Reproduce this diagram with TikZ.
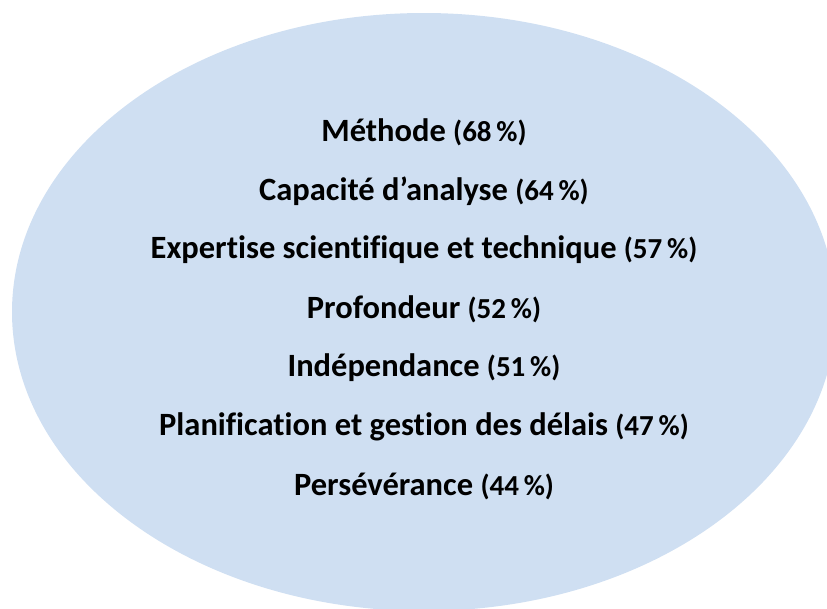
\documentclass[tikz,border=0pt]{standalone}
\usepackage{fontspec}
\setmainfont{Carlito}[Ligatures=CommonOff]
\definecolor{ellfill}{RGB}{207,223,242}
\newcommand{\pctxt}[1]{{\fontsize{29}{32}\selectfont(#1\,\%)}}
\begin{document}
\begin{tikzpicture}[x=1pt,y=-1pt,
  item/.style={font=\fontsize{32.5}{36}\selectfont\bfseries, text=black, anchor=center, inner sep=0pt}]
\useasboundingbox (0,0) rectangle (827,608);
\begin{scope}
\clip (0,0) rectangle (827,608);
\fill[ellfill] (424,312) ellipse [x radius=412, y radius=299];
\end{scope}
\node[item] (m1) at (424,132) {Méthode \pctxt{68}};
\node[item] (m2) at (424,191) {Capacité d’analyse \pctxt{64}};
\node[item] (m3) at (424,250) {Expertise scientifique et technique \pctxt{57}};
\node[item] (m4) at (424,309) {Profondeur \pctxt{52}};
\node[item] (m5) at (424,368) {Indépendance \pctxt{51}};
\node[item] (m6) at (424,427) {Planification et gestion des délais \pctxt{47}};
\node[item] (m7) at (424,486) {Persévérance \pctxt{44}};
\end{tikzpicture}
\end{document}
